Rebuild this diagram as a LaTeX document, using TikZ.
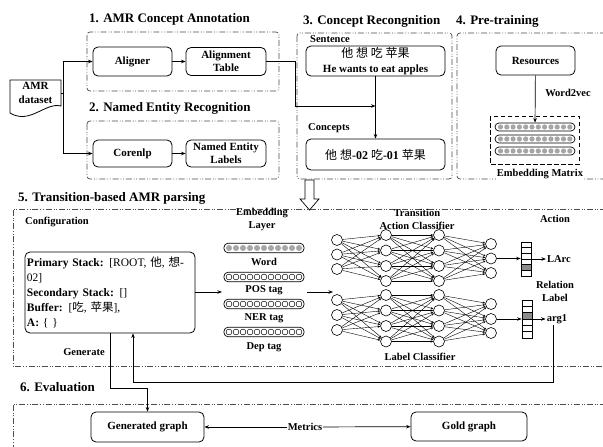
\documentclass[tikz,border=0pt]{standalone}
\usepackage{fontspec}
\setmainfont{Liberation Serif}
\newfontfamily\cjkf{Noto Sans CJK SC}
\newcommand\cjk{\cjkf\mdseries}
\usetikzlibrary{arrows.meta}
\begin{document}
\begin{tikzpicture}[x=1pt,y=-1pt,
  grp/.style={draw=black!70, line width=0.7pt, dash pattern=on 6pt off 2pt on 0.8pt off 1.6pt on 0.8pt off 2pt},
  box/.style={draw, rounded corners=5pt, line width=0.8pt, font=\bfseries\fontsize{11}{13}\selectfont, align=center, inner sep=2pt},
  arr/.style={-{Stealth[length=4.5pt,width=3.5pt]}, line width=0.7pt},
  ttl/.style={font=\bfseries\fontsize{13}{15}\selectfont, anchor=west, inner sep=0pt},
  lbl/.style={font=\bfseries\fontsize{10.5}{13}\selectfont, align=center, inner sep=1pt},
  nn/.style={circle, draw, fill=white, minimum size=11pt, inner sep=0pt, line width=0.6pt},
  nnedge/.style={-{Stealth[length=2.6pt,width=2.2pt]}, line width=0.4pt},
  pill/.style={draw, rounded corners=4pt, line width=0.7pt, minimum width=80pt, inner sep=0pt},
  vecbox/.style={draw, line width=0.7pt, minimum width=10pt, inner sep=0pt}
]
\useasboundingbox (0,0) rectangle (603,447);
\fill[white] (0,0) rectangle (603,447);

% ---------- group frames ----------
\draw[grp, rounded corners=3pt] (87,32) rectangle (279,91);
\draw[grp, rounded corners=3pt] (87,121) rectangle (279,179);
\draw[grp, rounded corners=3pt] (297,33) rectangle (452,179);
\draw[grp, rounded corners=3pt] (606,33) -- (457,33) -- (457,179) -- (606,179);
\draw[grp] (606,209) -- (13,209) -- (13,366) -- (606,366);
\draw[grp] (606,404) -- (13,404) -- (13,450);

% ---------- titles ----------
\node[ttl] (t1) at (89,19) {1. AMR Concept Annotation};
\node[ttl] (t2) at (89,108) {2. Named Entity Recognition};
\node[ttl] (t3) at (303,21) {3. Concept Recongnition};
\node[ttl] (t4) at (456,21) {4. Pre-training};
\node[ttl] (t5) at (18,198) {5. Transition-based AMR parsing};
\node[ttl] (t6) at (20,387) {6. Evaluation};

% ---------- AMR dataset ----------
\draw[line width=0.8pt, fill=white] (10,80) -- (61,80) -- (61,106) .. controls (45,102) and (30,125) .. (10,113) -- cycle;
\node[font=\bfseries\fontsize{11}{14}\selectfont, align=center, minimum width=51pt, minimum height=32pt, inner sep=0pt] (dataset) at (35.5,93) {AMR\\dataset};
\coordinate (fork) at (63,93);

% ---------- section 1 & 2 ----------
\node[box, minimum width=79pt, minimum height=29pt] (aligner) at (132.5,61.5) {Aligner};
\node[box, minimum width=80pt, minimum height=28pt] (altable) at (226,61.5) {Alignment\\Table};
\node[box, minimum width=79pt, minimum height=27pt] (corenlp) at (132.5,153.5) {Corenlp};
\node[box, minimum width=80pt, minimum height=27pt] (nelabels) at (226,153.5) {Named Entity\\Labels};

\draw[line width=0.7pt] (dataset.east) -- (fork);
\draw[arr] (fork) |- (aligner.west);
\draw[arr] (fork) |- (corenlp.west);
\draw[arr] (aligner) -- (altable);
\draw[arr] (corenlp) -- (nelabels);

% ---------- section 3 ----------
\node[lbl, anchor=west] (sentlbl) at (309,39) {Sentence};
\node[box, minimum width=139pt, minimum height=30pt, inner sep=1pt, font=\bfseries\fontsize{11}{15}\selectfont] (sent) at (375.5,61) {{\cjk\fontsize{12}{15}\selectfont 他 想 吃 苹果}\\He wants to eat apples};
\node[lbl, anchor=west] (conclbl) at (307,128) {Concepts};
\node[box, minimum width=139pt, minimum height=31pt, font=\bfseries\fontsize{12}{14}\selectfont] (concepts) at (375.5,154.5) {{\cjk 他} {\cjk 想}-02 {\cjk 吃}-01 {\cjk 苹果}};
\draw[arr] (sent) -- (concepts);
\coordinate (j1) at (295,106);
\coordinate (cm) at (375.5,106);
\draw[arr] (altable.east) -| (j1) -- (cm);

% ---------- section 4 ----------
\node[box, minimum width=79pt, minimum height=29pt] (res) at (535.5,60.5) {Resources};
\draw[line width=0.9pt, dash pattern=on 4.5pt off 2.5pt] (490,116) rectangle (579,164);
\foreach \yy [count=\k] in {127,139,151} {
  \node[pill, minimum height=8pt] (m\k) at (535,\yy) {};
  \foreach \c in {0,...,11} \fill[black!35] (500.5+\c*6.3,\yy) circle (2.6pt);
}
\draw[arr] (res) -- (m1);
\node[lbl] (w2v) at (568,93) {Word2vec};
\node[lbl, fill=white] (embm) at (540,174) {Embedding Matrix};

% ---------- hollow arrow ----------
\draw[line width=0.7pt, fill=white] (305,180) -- (314,180) -- (314,199) -- (319,199) -- (309.5,210) -- (300,199) -- (305,199) -- cycle;

% ---------- section 5 ----------
\node[lbl, anchor=west] (conflbl) at (24,222) {Configuration};
\node[box, font=\fontsize{11.5}{15}\selectfont, align=left, minimum width=170pt, minimum height=81pt, text width=166pt, inner sep=2pt] (config) at (110,292.5) {\textbf{Primary Stack:} [ROOT, {\cjk 他}, {\cjk 想}-\\02]\\\textbf{Secondary Stack:} []\\\textbf{Buffer:} [{\cjk 吃}, {\cjk 苹果}],\\\textbf{A:} \{ \}};

\node[lbl] (emblbl) at (262,219) {Embedding\\Layer};
\node[pill, minimum height=9.5pt] (e1) at (264,248) {};
\foreach \c in {0,...,10} \fill[black!35] (229+\c*7,248) circle (3pt);
\foreach \yy [count=\k from 2] in {277,304,332} {
  \node[pill, minimum height=9.5pt] (e\k) at (264,\yy) {};
  \foreach \c in {0,...,10} \draw[line width=0.5pt] (229+\c*7,\yy) circle (2.9pt);
}
\node[lbl] (word) at (264,262) {Word};
\node[lbl] (pos) at (264,290.5) {POS tag};
\node[lbl] (ner) at (264,318) {NER tag};
\node[lbl] (dep) at (264,347) {Dep tag};
\coordinate (embin) at (222,292);
\coordinate (embout) at (307,292);
\coordinate (nnin) at (333,292);
\draw[arr] (config.east |- embin) -- (embin);
\draw[arr] (embout) -- (nnin);

% neural networks
\foreach \y [count=\i] in {240,254.5,269} \node[nn] (a1\i) at (337,\y) {};
\foreach \y [count=\i] in {235,250.5,266,281} \node[nn] (a2\i) at (386,\y) {};
\foreach \y [count=\i] in {235,250.5,266,281} \node[nn] (a3\i) at (439,\y) {};
\foreach \y [count=\i] in {244,258.5,273} \node[nn] (a4\i) at (491,\y) {};
\foreach \i in {1,2,3} \foreach \j in {1,...,4} \draw[nnedge] (a1\i) -- (a2\j);
\foreach \i in {1,...,4} \foreach \j in {1,...,4} \draw[nnedge] (a2\i) -- (a3\j);
\foreach \i in {1,...,4} \foreach \j in {1,2,3} \draw[nnedge] (a3\i) -- (a4\j);

\foreach \y [count=\i] in {300,315,330} \node[nn] (b1\i) at (337,\y) {};
\foreach \y [count=\i] in {295,310.5,326,341.5} \node[nn] (b2\i) at (386,\y) {};
\foreach \y [count=\i] in {295,310.5,326,341.5} \node[nn] (b3\i) at (439,\y) {};
\foreach \y [count=\i] in {304,319,333} \node[nn] (b4\i) at (491,\y) {};
\foreach \i in {1,2,3} \foreach \j in {1,...,4} \draw[nnedge] (b1\i) -- (b2\j);
\foreach \i in {1,...,4} \foreach \j in {1,...,4} \draw[nnedge] (b2\i) -- (b3\j);
\foreach \i in {1,...,4} \foreach \j in {1,2,3} \draw[nnedge] (b3\i) -- (b4\j);

\node[lbl] (tac) at (417,219) {Transition\\Action Classifier};
\node[lbl] (lc) at (420,357) {Label Classifier};

% output vectors
\fill[black!45] (521,264.7) rectangle (531,270.3);
\node[vecbox, minimum height=34pt] (va) at (526,259) {};
\foreach \k in {1,...,5} \draw[line width=0.6pt] (521,242+\k*5.667) -- (531,242+\k*5.667);
\fill[black!45] (522,312.7) rectangle (532,319);
\node[vecbox, minimum height=38pt] (vb) at (527,319) {};
\foreach \k in {1,...,5} \draw[line width=0.6pt] (522,300+\k*6.333) -- (532,300+\k*6.333);

\node[lbl] (action) at (555,219) {Action};
\node[lbl] (larc) at (559,259) {LArc};
\node[lbl] (rel) at (555,291) {Relation\\Label};
\node[lbl] (arg1) at (557,319) {arg1};
\draw[arr] (a42) -- (va.west |- a42);
\draw[arr] (va.east |- larc) -- (larc.west);
\draw[arr] (b42) -- (vb.west |- b42);
\draw[arr] (vb.east |- arg1) -- (arg1.west);

% feedback and generate
\coordinate (fb1) at (553,382);
\coordinate (fb2) at (133,382);
\draw[arr] (arg1.south -| fb1) -- (fb1) -- (fb2) -- (fb2 |- config.south);
\node[lbl] (genlbl) at (84,352) {Generate};

% ---------- section 6 ----------
\node[box, minimum width=113pt, minimum height=30pt] (gen) at (147.5,427) {Generated graph};
\node[box, minimum width=116pt, minimum height=29pt] (gold) at (469,426.5) {Gold graph};
\node[lbl, inner sep=0.5pt] (metrics) at (305,427) {Metrics};
\draw[arr] (metrics) -- (gen);
\draw[arr] (metrics) -- (gold);
\coordinate (g1) at (110,388);
\draw[arr] (g1 |- config.south) -- (g1) -| (gen.north);
\end{tikzpicture}
\end{document}
